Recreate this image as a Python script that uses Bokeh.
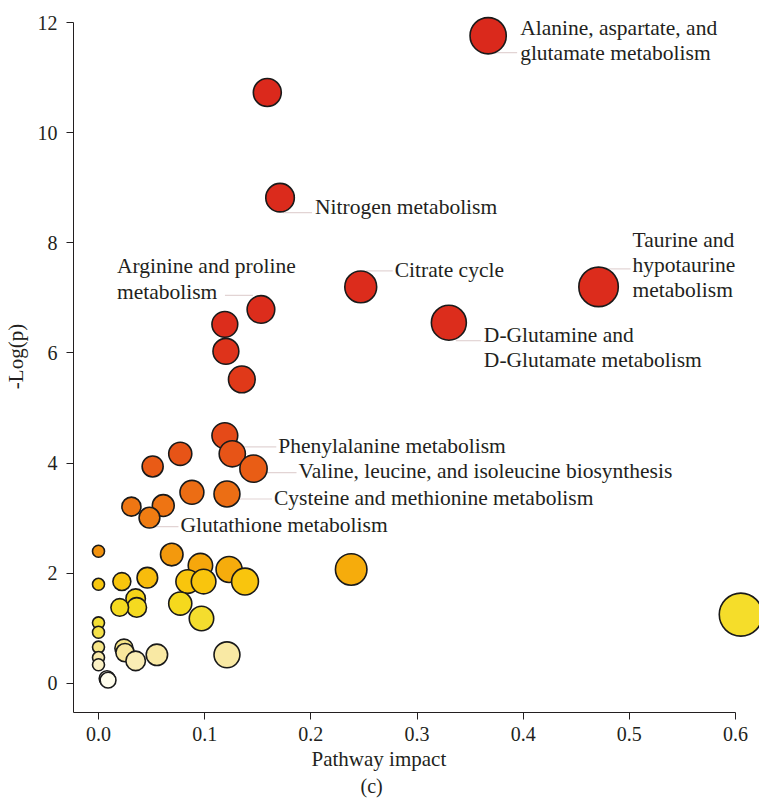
import numpy as np
from bokeh.plotting import figure
from bokeh.models import (ColumnDataSource, FixedTicker, PrintfTickFormatter,
                          LinearColorMapper, Title, Range1d)
from bokeh.core.properties import value
from bokeh.transform import transform
from bokeh.embed import file_html
from bokeh.resources import INLINE

# ---------------- data ----------------
impact = [0.367, 0.159, 0.171, 0.247, 0.471, 0.330, 0.153, 0.119, 0.120, 0.135,
          0.119, 0.126, 0.146, 0.077, 0.051, 0.121, 0.088, 0.061, 0.031, 0.048,
          0.000, 0.069, 0.096, 0.123, 0.138, 0.084, 0.099, 0.046, 0.022, 0.000,
          0.035, 0.036, 0.020, 0.077, 0.097, 0.000, 0.000, 0.000, 0.024, 0.025,
          0.055, 0.035, 0.000, 0.000, 0.121, 0.008, 0.009, 0.605, 0.238]
neg_log_p = [11.76, 10.73, 8.82, 7.20, 7.20, 6.55, 6.79, 6.52, 6.03, 5.52,
             4.50, 4.17, 3.90, 4.17, 3.94, 3.44, 3.47, 3.23, 3.21, 3.01,
             2.40, 2.34, 2.14, 2.07, 1.85, 1.85, 1.85, 1.92, 1.85, 1.80,
             1.54, 1.38, 1.38, 1.45, 1.18, 1.10, 0.93, 0.66, 0.64, 0.56,
             0.52, 0.41, 0.47, 0.34, 0.52, 0.09, 0.06, 1.25, 2.07]

label_index = [0, 2, 6, 3, 4, 5, 11, 12, 15, 19]
label_names = ["Alanine, aspartate, and\nglutamate metabolism",
               "Nitrogen metabolism",
               "Arginine and proline\nmetabolism",
               "Citrate cycle",
               "Taurine and\nhypotaurine\nmetabolism",
               "D-Glutamine and\nD-Glutamate metabolism",
               "Phenylalanine metabolism",
               "Valine, leucine, and isoleucine biosynthesis",
               "Cysteine and methionine metabolism",
               "Glutathione metabolism"]

x_ticks = [0.0, 0.1, 0.2, 0.3, 0.4, 0.5, 0.6]
y_ticks = [0, 2, 4, 6, 8, 10, 12]
x_title = "Pathway impact"
y_title = "-Log(p)"
caption = "(c)"

# ---------------- layout / style ----------------
FONT = "Liberation Serif"
TXT = "#231F20"
W, H = 759, 805
ML, MB, MT = 73, 93, 0
frame_w = W - ML
frame_h = H - MB - MT
px_x = 1061.7          # pixels per unit of impact
px_y = 55.08           # pixels per unit of -log(p)
x0 = -25 / px_x
x1 = x0 + frame_w / px_x
y1 = 12 + 22 / px_y
y0 = y1 - frame_h / px_y

# label layout in screen px relative to point: text dx, first line centre dy,
# leader y, leader start dx, leader end dx
lab_dx = [32, 35, -144, 34, 34, 35, 46, 45, 47, 31]
lab_dy = [-8, 9, -43, -17, -47, 12, -8, 2, 4, 7]
lead_dy = [17, 15, -14, -16, -18, 18, -7, 4, 5, 9]
lead_a = [7, 3, -36, 5, 2, 7, 8, 9, 8, 3]
lead_b = [29, 32, -8, 32, 32, 32, 44, 43, 45, 29]

# colour map on -log(p)
stops_v = [0.0, 0.3, 0.55, 1.0, 1.4, 1.85, 2.1, 2.4, 3.0, 3.5, 4.0, 4.6, 5.5, 6.5, 12.5]
stops_c = ["#FFFEF4", "#FBF1C4", "#F8E79A", "#F4E03A", "#F5DA1E", "#F9C30C", "#F6A80C",
           "#F2920E", "#EF7C12", "#EC6C14", "#E85816", "#E44818", "#E03A19", "#DC2D1C",
           "#DA281C"]


def hex2rgb(h):
    return [int(h[i:i + 2], 16) for i in (1, 3, 5)]


rgb = np.array([hex2rgb(c) for c in stops_c], dtype=float)
grid = np.linspace(0, 12.5, 256)
palette = []
for g in grid:
    r = np.interp(g, stops_v, rgb[:, 0])
    gg = np.interp(g, stops_v, rgb[:, 1])
    b = np.interp(g, stops_v, rgb[:, 2])
    palette.append("#%02x%02x%02x" % (int(round(r)), int(round(gg)), int(round(b))))
mapper = LinearColorMapper(palette=palette, low=0, high=12.5)

diam = [2 * (6 + 20 * np.sqrt(v)) for v in impact]
src = ColumnDataSource(dict(x=impact, y=neg_log_p, d=diam))

p = figure(width=W, height=H, output_backend="svg", toolbar_location=None,
           x_range=Range1d(x0, x1), y_range=Range1d(y0, y1),
           min_border_left=ML, min_border_right=0, min_border_top=MT,
           min_border_bottom=MB)
p.outline_line_color = None
p.grid.visible = False
p.background_fill_color = "white"

for ax in (p.xaxis[0], p.yaxis[0]):
    ax.axis_line_color = "#231F20"
    ax.major_tick_line_color = "#231F20"
    ax.minor_tick_line_color = None
    ax.major_tick_out = 7
    ax.major_tick_in = 0
    ax.major_label_text_font = FONT
    ax.major_label_text_font_size = "20px"
    ax.major_label_text_color = TXT
    ax.axis_label_text_font = FONT
    ax.axis_label_text_font_size = "21px"
    ax.axis_label_text_font_style = "normal"
    ax.axis_label_text_color = TXT

p.xaxis.ticker = FixedTicker(ticks=x_ticks)
p.xaxis.formatter = PrintfTickFormatter(format="%.1f")
p.xaxis.bounds = (x0, 0.6)
p.xaxis.major_label_standoff = 7
p.yaxis.ticker = FixedTicker(ticks=y_ticks)
p.yaxis.bounds = (y0, 12)
p.yaxis.major_label_standoff = 9
p.yaxis.axis_label = y_title
p.yaxis.axis_label_standoff = 7

# leader lines
lx0 = [impact[i] + a / px_x for i, a in zip(label_index, lead_a)]
lx1 = [impact[i] + b / px_x for i, b in zip(label_index, lead_b)]
ly = [neg_log_p[i] - d / px_y for i, d in zip(label_index, lead_dy)]
p.segment(x0=lx0, y0=ly, x1=lx1, y1=ly, line_color="#E2D4D4", line_width=1.2)

p.scatter("x", "y", size="d", source=src, fill_color=transform("y", mapper),
          line_color="#1A1A1A", line_width=1.6)

# labels
lsrc = ColumnDataSource(dict(
    x=[impact[i] for i in label_index],
    y=[neg_log_p[i] for i in label_index],
    t=label_names, dx=lab_dx, dy=[d - 12 for d in lab_dy]))
p.text("x", "y", text="t", x_offset="dx", y_offset="dy", source=lsrc,
       text_font=value(FONT), text_font_size="21.5px", text_color=TXT,
       text_align="left", text_baseline="top", text_line_height=1.05)

# x-axis title and caption, centred on the page rather than the frame
xlab = Title(text=x_title, align="left", offset=238, text_font=FONT,
             text_font_size="21px", text_font_style="normal", text_color=TXT,
             standoff=2)
p.add_layout(xlab, "below")
cap = Title(text=caption, align="left", offset=287, text_font=FONT,
            text_font_size="20px", text_font_style="normal", text_color=TXT,
            standoff=3)
p.add_layout(cap, "below")

open("out.html", "w").write(file_html(p, INLINE))
